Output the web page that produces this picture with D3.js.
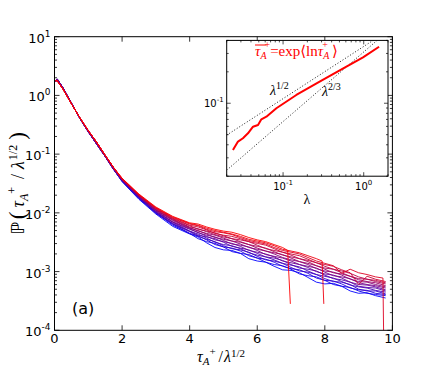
<!DOCTYPE html>
<html><head><meta charset="utf-8">
<script src="https://cdn.jsdelivr.net/npm/d3@7"></script>
<style>body{margin:0;background:#fff}svg{display:block}</style>
</head><body>
<svg id="c" width="436" height="367"></svg>
<script>
// ---------- data ----------
const xTicks = [0, 2, 4, 6, 8, 10];
const yTickExps = [1, 0, -1, -2, -3, -4];
const headX = [0.03, 0.08, 0.25, 0.5, 0.75, 1.0, 1.25, 1.5, 1.75];
const headLogPBlue = [0.24, 0.28, 0.13, -0.13, -0.39, -0.62, -0.83, -1.04, -1.26];
const headLogPRed  = [0.25, 0.25, 0.11, -0.14, -0.38, -0.60, -0.80, -1.02, -1.23];
const tailX = [2, 2.5, 3, 3.5, 4, 4.25, 4.5, 4.75, 5, 5.25, 5.5, 5.75, 6, 6.25, 6.5, 6.75,
               7, 7.25, 7.5, 7.75, 8, 8.25, 8.5, 8.75, 9, 9.25, 9.5, 9.8];
// log10 of the probability, blue (index 0) to red (index 15)
const tailLogP = [
  [-1.47,-1.77,-2.02,-2.23,-2.36,-2.41,-2.51,-2.59,-2.63,-2.64,-2.69,-2.78,-2.82,-2.84,-2.91,-2.97,-2.98,-3.02,-3.10,-3.18,-3.21,-3.20,-3.25,-3.33,-3.37,-3.36,-3.41,-3.45],
  [-1.46,-1.76,-2.00,-2.21,-2.35,-2.44,-2.49,-2.52,-2.58,-2.66,-2.69,-2.71,-2.77,-2.84,-2.88,-2.90,-2.96,-3.04,-3.07,-3.09,-3.15,-3.22,-3.25,-3.27,-3.33,-3.37,-3.39,-3.41],
  [-1.46,-1.75,-2.01,-2.19,-2.35,-2.39,-2.46,-2.54,-2.58,-2.60,-2.65,-2.73,-2.77,-2.79,-2.84,-2.91,-2.95,-2.97,-3.03,-3.11,-3.15,-3.16,-3.21,-3.28,-3.31,-3.32,-3.37,-3.39],
  [-1.46,-1.74,-1.99,-2.19,-2.32,-2.40,-2.45,-2.49,-2.56,-2.61,-2.63,-2.67,-2.74,-2.80,-2.82,-2.86,-2.93,-2.99,-3.01,-3.05,-3.12,-3.17,-3.18,-3.22,-3.30,-3.33,-3.33,-3.38],
  [-1.45,-1.74,-1.99,-2.18,-2.31,-2.36,-2.43,-2.50,-2.54,-2.56,-2.61,-2.68,-2.72,-2.75,-2.80,-2.86,-2.89,-2.92,-2.99,-3.05,-3.08,-3.11,-3.17,-3.23,-3.26,-3.28,-3.32,-3.35],
  [-1.45,-1.73,-1.98,-2.16,-2.31,-2.38,-2.41,-2.44,-2.50,-2.57,-2.60,-2.63,-2.69,-2.75,-2.77,-2.81,-2.88,-2.94,-2.96,-2.99,-3.06,-3.12,-3.14,-3.18,-3.25,-3.27,-3.28,-3.33],
  [-1.44,-1.73,-1.97,-2.16,-2.28,-2.33,-2.40,-2.46,-2.49,-2.52,-2.57,-2.64,-2.67,-2.70,-2.75,-2.82,-2.85,-2.88,-2.93,-3.00,-3.04,-3.06,-3.11,-3.18,-3.22,-3.23,-3.26,-3.31],
  [-1.44,-1.72,-1.96,-2.15,-2.27,-2.34,-2.38,-2.41,-2.47,-2.53,-2.55,-2.58,-2.64,-2.71,-2.74,-2.77,-2.82,-2.88,-2.91,-2.94,-3.01,-3.07,-3.09,-3.12,-3.19,-3.22,-3.24,-3.28],
  [-1.44,-1.72,-1.95,-2.13,-2.26,-2.30,-2.36,-2.42,-2.45,-2.48,-2.53,-2.59,-2.62,-2.65,-2.70,-2.76,-2.80,-2.83,-2.88,-2.95,-2.99,-3.01,-3.06,-3.13,-3.17,-3.18,-3.22,-3.26],
  [-1.43,-1.71,-1.95,-2.12,-2.25,-2.31,-2.35,-2.38,-2.43,-2.48,-2.50,-2.54,-2.60,-2.65,-2.68,-2.71,-2.77,-2.83,-2.86,-2.90,-2.96,-3.02,-3.04,-3.08,-3.14,-3.17,-3.19,-3.24],
  [-1.43,-1.71,-1.94,-2.11,-2.24,-2.27,-2.32,-2.37,-2.41,-2.44,-2.49,-2.54,-2.57,-2.60,-2.66,-2.72,-2.75,-2.78,-2.83,-2.90,-2.94,-2.96,-3.02,-3.08,-3.12,-3.13,-3.17,-3.21],
  [-1.43,-1.70,-1.93,-2.10,-2.22,-2.28,-2.31,-2.34,-2.39,-2.44,-2.46,-2.49,-2.55,-2.61,-2.64,-2.67,-2.72,-2.78,-2.81,-2.85,-2.91,-2.96,-2.99,-3.03,-3.09,-3.13,-3.15,-3.19],
  [-1.42,-1.70,-1.92,-2.09,-2.21,-2.24,-2.29,-2.35,-2.38,-2.40,-2.44,-2.49,-2.52,-2.55,-2.61,-2.67,-2.70,-2.73,-2.79,-2.85,-2.88,-2.91,-2.97,-3.02,-3.22,-3.08,-3.13,-3.17],
  [-1.42,-1.69,-1.92,-2.08,-2.19,-2.22,-2.28,-2.32,-2.34,-2.37,-2.42,-2.47,-2.50,-2.53,-2.59,-2.64,-2.67,-2.70,-2.76,-2.82,-2.86,-2.90,-3.03,-2.96,-3.02,-3.05,-3.09],
  [-1.41,-1.69,-1.91,-2.07,-2.18,-2.21,-2.26,-2.30,-2.33,-2.36,-2.40,-2.45,-2.48,-2.51,-2.56,-2.62,-2.65,-2.68,-2.73,-2.78],
  [-1.41,-1.68,-1.90,-2.06,-2.17,-2.19,-2.24,-2.28,-2.31,-2.33,-2.37,-2.42,-2.46,-2.49,-2.54,-2.59]
];
// last points of the curves that stop early (curve index -> points)
const endX    = {13: [9.72, 9.76], 14: [7.92, 7.97], 15: [6.9, 6.98]};
const endLogP = {13: [-3.11, -5.0], 14: [-2.82, -3.55], 15: [-2.64, -3.55]};

// inset
const lam    = [0.0239,0.0276,0.0318,0.0367,0.0424,0.0489,0.0538,0.0621,0.0826,0.146,0.284,0.61,0.98,1.55];
const tauBar = [0.0356,0.0429,0.0462,0.0515,0.0596,0.0619,0.0702,0.0743,0.0895,0.120,0.161,0.224,0.275,0.348];
const guideExp  = [1/2, 2/3];
const guideCoef = [0.35, 0.31];
const insetXTickExps = [-1, 0];
const insetYTickExps = [-1];

// ---------- drawing ----------
const svg = d3.select('#c');
const M = {l: 54.5, r: 392.4, t: 36.7, b: 330.3};
const x = d3.scaleLinear().domain([0, 10]).range([M.l, M.r]);
const y = d3.scaleLog().domain([1e-4, 10]).range([M.b, M.t]);
const TICKF = "'DejaVu Sans', sans-serif";
const MATHF = "'Liberation Serif', 'DejaVu Serif', serif";

const defs = svg.append('defs');
defs.append('clipPath').attr('id', 'clipMain').append('rect')
  .attr('x', M.l).attr('y', M.t).attr('width', M.r - M.l).attr('height', M.b - M.t);

const color = d3.interpolateRgb('#0000ff', '#ff0000');
const line = d3.line().x(d => x(d[0])).y(d => y(Math.pow(10, d[1])));
const gC = svg.append('g').attr('clip-path', 'url(#clipMain)');
const n = tailLogP.length;
tailLogP.forEach((tail, i) => {
  const head = i < n / 2 ? headLogPBlue : headLogPRed;
  const pts = headX.map((v, k) => [v, head[k]]);
  tail.forEach((v, k) => pts.push([tailX[k], v]));
  if (endX[i]) endX[i].forEach((v, k) => pts.push([v, endLogP[i][k]]));
  gC.append('path').attr('d', line(pts)).attr('fill', 'none')
    .attr('stroke', color(i / (n - 1))).attr('stroke-width', 0.9)
    .attr('stroke-linejoin', 'round');
});

// frame
svg.append('rect').attr('x', M.l).attr('y', M.t).attr('width', M.r - M.l).attr('height', M.b - M.t)
  .attr('fill', 'none').attr('stroke', '#000').attr('stroke-width', 1);

const gT = svg.append('g').attr('stroke', '#000').attr('stroke-width', 0.8);
xTicks.forEach(v => {
  gT.append('line').attr('x1', x(v)).attr('x2', x(v)).attr('y1', M.b).attr('y2', M.b - 5);
  gT.append('line').attr('x1', x(v)).attr('x2', x(v)).attr('y1', M.t).attr('y2', M.t + 5);
  svg.append('text').attr('x', x(v)).attr('y', M.b + 12.5).attr('text-anchor', 'middle')
    .attr('font-family', TICKF).attr('font-size', 13).text(v);
});
yTickExps.forEach(e => {
  const yy = y(Math.pow(10, e));
  gT.append('line').attr('x1', M.l).attr('x2', M.l + 5).attr('y1', yy).attr('y2', yy);
  gT.append('line').attr('x1', M.r).attr('x2', M.r - 5).attr('y1', yy).attr('y2', yy);
  const t = svg.append('text').attr('x', M.l - 4).attr('y', yy + 6).attr('text-anchor', 'end')
    .attr('font-family', TICKF).attr('font-size', 13);
  t.append('tspan').text('10');
  t.append('tspan').attr('dy', -6).attr('font-size', 9).text(e < 0 ? '-' + (-e) : String(e));
});
for (let e = -4; e < 1; e++) for (let k = 2; k <= 9; k++) {
  const yy = y(k * Math.pow(10, e));
  gT.append('line').attr('x1', M.l).attr('x2', M.l + 2.5).attr('y1', yy).attr('y2', yy);
  gT.append('line').attr('x1', M.r).attr('x2', M.r - 2.5).attr('y1', yy).attr('y2', yy);
}

// (a)
svg.append('text').attr('x', 72).attr('y', 314).attr('font-family', TICKF).attr('font-size', 16).text('(a)');

// x label
const xl = svg.append('text').attr('x', 221).attr('y', 362).attr('text-anchor', 'middle')
  .attr('font-family', MATHF).attr('font-size', 16);
xl.append('tspan').attr('font-style', 'italic').text('τ');
xl.append('tspan').attr('font-style', 'italic').attr('font-size', 11).attr('dy', 3).text('A');
xl.append('tspan').attr('font-size', 11).attr('dx', 0).attr('dy', -10).text('+');
xl.append('tspan').attr('dy', 7).attr('dx', 3).text('/');
xl.append('tspan').attr('font-style', 'italic').attr('dx', 1).text('λ');
xl.append('tspan').attr('font-size', 11).attr('dy', -5).text('1/2');

// y label
const yl = svg.append('text').attr('transform', 'translate(24,183.5) rotate(-90)').attr('text-anchor', 'middle')
  .attr('font-family', MATHF).attr('font-size', 18);
yl.append('tspan').attr('font-family', TICKF).text('ℙ');
yl.append('tspan').attr('font-size', 23).attr('dy', 1).attr('dx', 3).text('(');
yl.append('tspan').attr('font-style', 'italic').attr('dy', -1).attr('dx', 4).text('τ');
yl.append('tspan').attr('font-style', 'italic').attr('font-size', 12).attr('dy', 4).text('A');
yl.append('tspan').attr('font-size', 12).attr('dx', 0).attr('dy', -12).text('+');
yl.append('tspan').attr('dy', 8).attr('dx', 8).text('/');
yl.append('tspan').attr('font-style', 'italic').attr('dx', 5).text('λ');
yl.append('tspan').attr('font-size', 12).attr('dy', -7).attr('dx', 1).text('1/2');
yl.append('tspan').attr('font-size', 23).attr('dy', 8).attr('dx', 5).text(')');

// ---------- inset ----------
const I = {l: 226.7, r: 388, t: 40.4, b: 176.2};
const ix = d3.scaleLog().domain([0.02, 2]).range([I.l, I.r]);
const iy = d3.scaleLog().domain([0.02, 0.4]).range([I.b, I.t]);
svg.append('rect').attr('x', I.l).attr('y', I.t).attr('width', I.r - I.l).attr('height', I.b - I.t)
  .attr('fill', '#fff');
defs.append('clipPath').attr('id', 'clipIn').append('rect')
  .attr('x', I.l).attr('y', I.t).attr('width', I.r - I.l).attr('height', I.b - I.t);
const gI = svg.append('g').attr('clip-path', 'url(#clipIn)');
guideExp.forEach((p, j) => {
  const ends = ix.domain().map(l => [l, guideCoef[j] * Math.pow(l, p)]);
  gI.append('path').attr('d', d3.line().x(d => ix(d[0])).y(d => iy(d[1]))(ends))
    .attr('fill', 'none').attr('stroke', '#000').attr('stroke-width', 0.9).attr('stroke-dasharray', '1,2');
});
gI.append('path').attr('d', d3.line().x((d, k) => ix(d)).y((d, k) => iy(tauBar[k]))(lam))
  .attr('fill', 'none').attr('stroke', '#ff0000').attr('stroke-width', 2).attr('stroke-linejoin', 'round');
svg.append('rect').attr('x', I.l).attr('y', I.t).attr('width', I.r - I.l).attr('height', I.b - I.t)
  .attr('fill', 'none').attr('stroke', '#000').attr('stroke-width', 1);
const gIT = svg.append('g').attr('stroke', '#000').attr('stroke-width', 0.7);
insetXTickExps.forEach(e => {
  const xx = ix(Math.pow(10, e));
  gIT.append('line').attr('x1', xx).attr('x2', xx).attr('y1', I.b).attr('y2', I.b - 4);
  gIT.append('line').attr('x1', xx).attr('x2', xx).attr('y1', I.t).attr('y2', I.t + 4);
  const t = svg.append('text').attr('x', xx).attr('y', I.b + 14).attr('text-anchor', 'middle')
    .attr('font-family', TICKF).attr('font-size', 10);
  t.append('tspan').text('10');
  t.append('tspan').attr('dy', -5).attr('font-size', 7).text(e < 0 ? '-' + (-e) : String(e));
});
[-2, -1, 0].forEach(e => { for (let k = 2; k <= 9; k++) {
  const v = k * Math.pow(10, e);
  if (v < 0.02 || v > 2) continue;
  const xx = ix(v);
  gIT.append('line').attr('x1', xx).attr('x2', xx).attr('y1', I.b).attr('y2', I.b - 2);
  gIT.append('line').attr('x1', xx).attr('x2', xx).attr('y1', I.t).attr('y2', I.t + 2);
}});
insetYTickExps.forEach(e => {
  const yy = iy(Math.pow(10, e));
  gIT.append('line').attr('x1', I.l).attr('x2', I.l + 4).attr('y1', yy).attr('y2', yy);
  gIT.append('line').attr('x1', I.r).attr('x2', I.r - 4).attr('y1', yy).attr('y2', yy);
  const t = svg.append('text').attr('x', I.l - 3).attr('y', yy + 4).attr('text-anchor', 'end')
    .attr('font-family', TICKF).attr('font-size', 10);
  t.append('tspan').text('10');
  t.append('tspan').attr('dy', -5).attr('font-size', 7).text('-' + (-e));
});
[-2, -1].forEach(e => { for (let k = 2; k <= 9; k++) {
  const v = k * Math.pow(10, e);
  if (v < 0.02 || v > 0.4) continue;
  const yy = iy(v);
  gIT.append('line').attr('x1', I.l).attr('x2', I.l + 2).attr('y1', yy).attr('y2', yy);
  gIT.append('line').attr('x1', I.r).attr('x2', I.r - 2).attr('y1', yy).attr('y2', yy);
}});
// inset x label
svg.append('text').attr('x', 307).attr('y', 204).attr('text-anchor', 'middle')
  .attr('font-family', MATHF).attr('font-size', 14).text('λ');
// guide labels
function powLabel(xp, yp, sup) {
  const t = svg.append('text').attr('x', xp).attr('y', yp).attr('font-family', MATHF).attr('font-size', 14);
  t.append('tspan').attr('font-style', 'italic').text('λ');
  t.append('tspan').attr('font-size', 10).attr('dy', -6).text(sup);
}
powLabel(270, 95, '1/2');
powLabel(322, 96, '2/3');
// red formula label
const rl = svg.append('text').attr('x', 255).attr('y', 56).attr('font-family', MATHF)
  .attr('font-size', 15).attr('fill', '#ff0000');
rl.append('tspan').attr('font-style', 'italic').text('τ');
rl.append('tspan').attr('font-style', 'italic').attr('font-size', 10).attr('dy', 3).text('A');
rl.append('tspan').attr('font-size', 10).attr('dx', -2).attr('dy', -11).text('+');
rl.append('tspan').attr('dy', 8).text('=exp');
rl.append('tspan').attr('font-family', "'DejaVu Sans', sans-serif").text('⟨');
rl.append('tspan').text('ln');
rl.append('tspan').attr('font-style', 'italic').text('τ');
rl.append('tspan').attr('font-style', 'italic').attr('font-size', 10).attr('dy', 3).text('A');
rl.append('tspan').attr('font-size', 10).attr('dx', -7).attr('dy', -11).text('+');
rl.append('tspan').attr('font-family', "'DejaVu Sans', sans-serif").attr('dx', 4).attr('dy', 8).text('⟩');
// overline over the first tau_A
const node = rl.node();
const e0 = node.getExtentOfChar(0), e1 = node.getExtentOfChar(1);
svg.append('line').attr('x1', e0.x).attr('x2', e1.x + e1.width).attr('y1', e0.y + 2).attr('y2', e0.y + 2)
  .attr('stroke', '#ff0000').attr('stroke-width', 1);
</script>
</body></html>
